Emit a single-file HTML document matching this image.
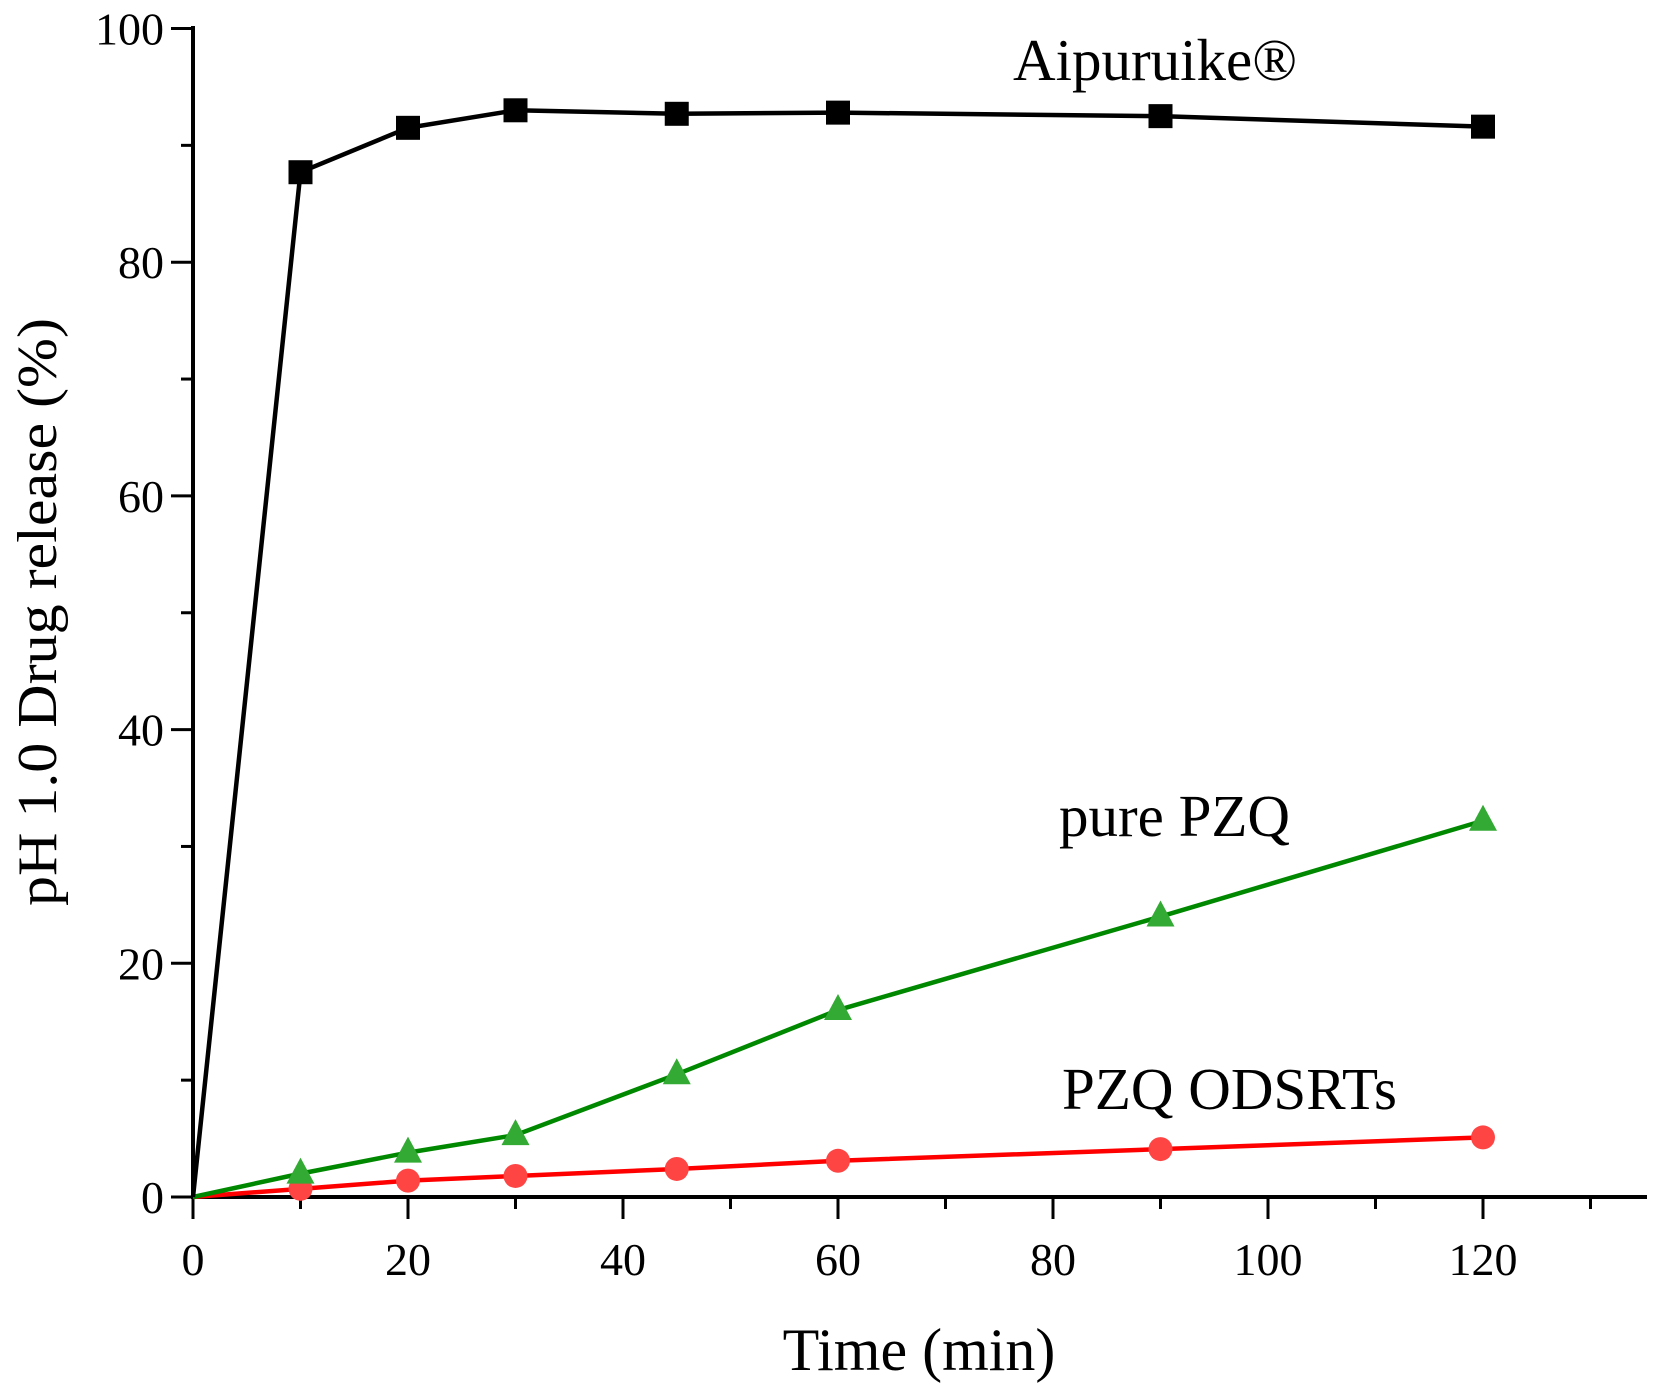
<!DOCTYPE html>
<html><head><meta charset="utf-8"><style>html,body{margin:0;padding:0;background:#fff}svg{display:block}</style></head>
<body>
<svg id="s" width="1661" height="1388" viewBox="0 0 1661 1388" xmlns="http://www.w3.org/2000/svg" font-family="'Liberation Serif', serif">
<rect width="1661" height="1388" fill="#fff"/>
<g id="g"></g>
<text x="919" y="1370" font-size="60" text-anchor="middle">Time (min)</text>
<text transform="translate(56,612) rotate(-90)" font-size="56" text-anchor="middle" textLength="588" lengthAdjust="spacingAndGlyphs">pH 1.0 Drug release (%)</text>
<text x="1013" y="80" font-size="59">Aipuruike®</text>
<text x="1059" y="836" font-size="59">pure PZQ</text>
<text x="1062" y="1109" font-size="59">PZQ ODSRTs</text>
</svg>
<script>
var g=document.getElementById('g'),h='';
function X(v){return 193+v*10.75}function Y(v){return 1197-v*11.685}
h+='<line x1="193" y1="26" x2="193" y2="1199" stroke="#000" stroke-width="4"/>';
h+='<line x1="191" y1="1197" x2="1647" y2="1197" stroke="#000" stroke-width="4"/>';
for(var v=0;v<=130;v+=10){var L=v%20==0?22:12;h+='<line x1="'+X(v)+'" y1="1197" x2="'+X(v)+'" y2="'+(1197+L)+'" stroke="#000" stroke-width="3"/>';
if(v%20==0)h+='<text x="'+X(v)+'" y="1275" font-size="46" text-anchor="middle">'+v+'</text>';}
for(var v=0;v<=100;v+=10){var L=v%20==0?22:12;h+='<line x1="'+(193-L)+'" y1="'+Y(v)+'" x2="193" y2="'+Y(v)+'" stroke="#000" stroke-width="3"/>';
if(v%20==0)h+='<text x="164" y="'+(Y(v)+16)+'" font-size="46" text-anchor="end">'+v+'</text>';}
var t=[0,10,20,30,45,60,90,120];
var K=[0,87.7,91.5,93,92.7,92.8,92.5,91.6],G=[0,2,3.8,5.3,10.5,16,24,32.2],R=[0,0.7,1.4,1.8,2.4,3.1,4.1,5.1];
function line(d,c){var p=t.map(function(x,i){return X(x)+','+Y(d[i])}).join(' ');h+='<polyline points="'+p+'" fill="none" stroke="'+c+'" stroke-width="4.5"/>';}
line(R,'#f00');line(G,'#080');line(K,'#000');
t.forEach(function(x,i){if(!i)return;var cx=X(x),cy=Y(R[i]);h+='<circle cx="'+cx+'" cy="'+cy+'" r="12" fill="#f44"/>';});
t.forEach(function(x,i){if(!i)return;var cx=X(x),cy=Y(G[i]);h+='<polygon points="'+cx+','+(cy-16)+' '+(cx-14)+','+(cy+10)+' '+(cx+14)+','+(cy+10)+'" fill="#3a3"/>';});
t.forEach(function(x,i){if(!i)return;var cx=X(x),cy=Y(K[i]);h+='<rect x="'+(cx-12)+'" y="'+(cy-12)+'" width="24" height="24" fill="#000"/>';});
g.innerHTML=h;
</script>
</body></html>
